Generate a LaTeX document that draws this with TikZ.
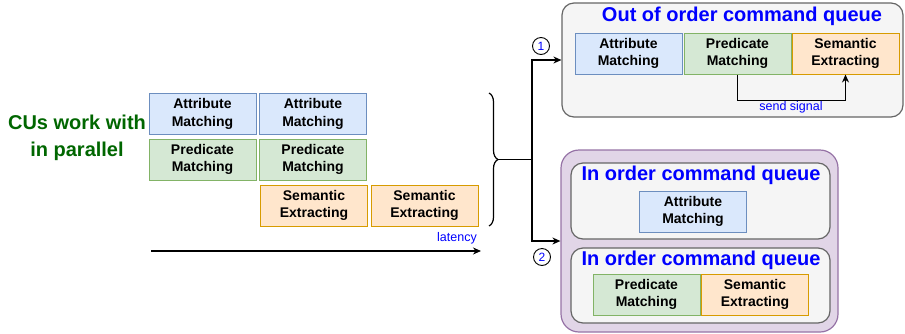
\documentclass[tikz,border=0pt]{standalone}
\usepackage{fontspec}
\setmainfont{Liberation Sans}
\usetikzlibrary{arrows.meta,decorations.pathreplacing}
\definecolor{bfill}{HTML}{DAE8FC}\definecolor{bdraw}{HTML}{6C8EBF}
\definecolor{gfill}{HTML}{D5E8D4}\definecolor{gdraw}{HTML}{82B366}
\definecolor{ofill}{HTML}{FFE6CC}\definecolor{odraw}{HTML}{D79B00}
\definecolor{pfill}{HTML}{E1D5E7}\definecolor{pdraw}{HTML}{9673A6}
\definecolor{qfill}{HTML}{F5F5F5}\definecolor{qdraw}{HTML}{666666}
\definecolor{dgreen}{HTML}{006600}
\definecolor{tblue}{HTML}{0000FF}
\tikzset{
  cu/.style={draw, line width=1pt, minimum width=107pt, minimum height=41pt, inner sep=0pt,
    align=center, font=\fontsize{14}{17.5}\selectfont\bfseries},
  attr/.style={cu, fill=bfill, draw=bdraw},
  pred/.style={cu, fill=gfill, draw=gdraw},
  sem/.style={cu, fill=ofill, draw=odraw},
  queue/.style={draw=qdraw, fill=qfill, line width=1.2pt, rounded corners=12pt, inner sep=0pt},
  qtitle/.style={text=tblue, font=\fontsize{20}{24}\selectfont\bfseries, inner sep=0pt},
  arr/.style={line width=1.2pt, -{Stealth[length=8pt,width=7pt]}},
  small/.style={text=tblue, font=\fontsize{12.5}{15}\selectfont, inner sep=0pt},
  num/.style={draw, circle, line width=0.9pt, minimum size=17pt, inner sep=0pt, text=tblue,
    font=\fontsize{12}{14}\selectfont}
}
\begin{document}
\begin{tikzpicture}[x=1pt,y=-1pt]
\useasboundingbox (0,0) rectangle (905,333);
% left: parallel CUs
\node[text=dgreen, align=center, font=\fontsize{20}{27}\selectfont\bfseries, inner sep=0pt] (cus) at (77,137.5) {CUs work with\\in parallel};
\node[attr] (a1) at (202.5,114) {Attribute\\Matching};
\node[attr] (a2) at (313,114) {Attribute\\Matching};
\node[pred] (p1) at (202.5,159.5) {Predicate\\Matching};
\node[pred] (p2) at (313,159.5) {Predicate\\Matching};
\node[sem] (s1) at (314,205.5) {Semantic\\Extracting};
\node[sem] (s2) at (424.5,205.5) {Semantic\\Extracting};
% latency
\coordinate (lat0) at (151,251);
\coordinate (lat1) at (481,251);
\draw[arr] (lat0) -- (lat1);
\node[small] (lat) at (457,238) {latency};
% brace
\coordinate (bt) at (489,93);
\coordinate (bb) at (489,226);
\draw[line width=1.2pt, decorate, decoration={brace, amplitude=9pt}] (bt) -- (bb);
\coordinate (btip) at (498,159.5);
% out of order queue
\node[queue, minimum width=341pt, minimum height=114pt] (q1) at (732.5,60) {};
\node[qtitle] (t1) at (742,16) {Out of order command queue};
\node[attr] (qa) at (628.5,53.5) {Attribute\\Matching};
\node[pred] (qp) at (737.5,53.5) {Predicate\\Matching};
\node[sem] (qs) at (845.5,53.5) {Semantic\\Extracting};
\draw[arr] (qp.south) -- ++(0,26) coordinate (sig) -| (qs.south);
\node[small] (ss) at (791,107) {send signal};
% in order queues
\node[draw=pdraw, fill=pfill, line width=1.2pt, rounded corners=18pt, minimum width=277pt, minimum height=182pt, inner sep=0pt] (q2) at (699.5,241) {};
\node[queue, minimum width=259pt, minimum height=76pt] (i1) at (700.5,201) {};
\node[qtitle] (t2) at (701,175) {In order command queue};
\node[attr] (ia) at (693,211.5) {Attribute\\Matching};
\node[queue, minimum width=259pt, minimum height=75pt] (i2) at (700.5,285.5) {};
\node[qtitle] (t3) at (701,260) {In order command queue};
\node[pred] (ip) at (646.5,294.5) {Predicate\\Matching};
\node[sem] (is) at (755,294.5) {Semantic\\Extracting};
% connectors
\draw[line width=1.2pt] (btip) -- (532,159.5) coordinate (jn);
\draw[arr] (jn) |- (q1.west);
\draw[arr] (jn) |- (q2.west);
\node[num] (n1) at (541,46) {1};
\node[num] (n2) at (542,257) {2};
\end{tikzpicture}
\end{document}
